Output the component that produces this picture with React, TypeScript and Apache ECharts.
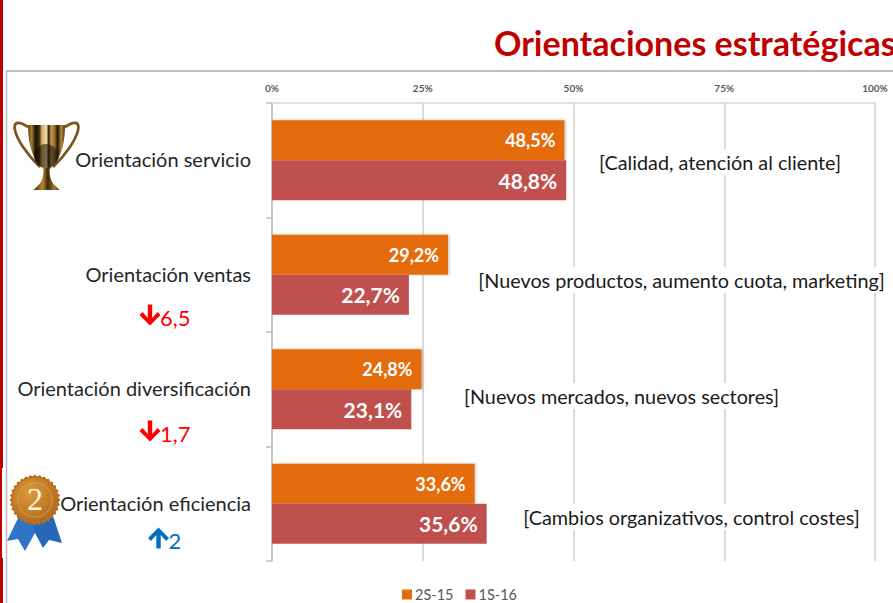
import React, { useEffect, useRef } from "react";
import * as echarts from "echarts";

const categories = ["Orientación servicio", "Orientación ventas", "Orientación diversificación", "Orientación eficiencia"];
const seriesNames = ["2S-15", "1S-16"];
const values2S15 = [48.5, 29.2, 24.8, 33.6];
const values1S16 = [48.8, 22.7, 23.1, 35.6];
const tickLabels = ["0%", "25%", "50%", "75%", "100%"];
const notes = [
  "[Calidad, atención al cliente]",
  "[Nuevos productos, aumento cuota, marketing]",
  "[Nuevos mercados, nuevos sectores]",
  "[Cambios organizativos, control costes]",
];
const noteCenters = [720, 681.5, 621.5, 691.5];
const noteYs = [162, 280, 396, 517];
const deltas = [
  { dir: 1, value: "6,5", color: "#FF0000", x: 150, y: 317 },
  { dir: 1, value: "1,7", color: "#FF0000", x: 150, y: 433 },
  { dir: -1, value: "2", color: "#0070C0", x: 158.5, y: 540 },
];
const FONT = "Lato, 'Noto Sans', sans-serif";

const cupPath = "M0 0 L37 0 C37 20 32 36 22 44 L15 44 C5 36 0 20 0 0 Z";
const stemPath = "M17 0 L23 0 C23 8 24 13 28 17 L33 22 L7 22 L12 17 C16 13 17 8 17 0 Z";
echarts.graphic.registerShape("trophyCup", echarts.graphic.extendPath(cupPath, {}) as any);
echarts.graphic.registerShape("trophyStem", echarts.graphic.extendPath(stemPath, {}) as any);

const gold = (stops: [number, string][]) => ({
  type: "linear", x: 0, y: 0, x2: 1, y2: 0,
  colorStops: stops.map(([offset, color]) => ({ offset, color })),
});

function seal(cx: number, cy: number, r1: number, r2: number, n: number) {
  const pts: number[][] = [];
  for (let i = 0; i < n * 2; i++) {
    const a = (Math.PI * i) / n;
    const r = i % 2 ? r2 : r1;
    pts.push([cx + r * Math.cos(a), cy + r * Math.sin(a)]);
  }
  return pts;
}

function arrowPoints(cx: number, cy: number, dir: number) {
  const shape = [[-2.2, -10.5], [2.2, -10.5], [2.2, 3], [7.5, -3], [10.5, 0], [0, 10.5], [-10.5, 0], [-7.5, -3], [-2.2, 3]];
  return shape.map(([x, y]) => [cx + x, cy + y * dir]);
}

export default function App() {
  const ref = useRef<HTMLDivElement>(null);
  useEffect(() => {
    const chart = echarts.init(ref.current!, null, { renderer: "svg" });
    const barLabel = (size: number) => ({
      show: true,
      position: "insideRight" as const,
      distance: 9,
      color: "#fff",
      fontFamily: FONT,
      fontWeight: "bold" as const,
      fontSize: size,
      formatter: (p: any) => `${String(p.value.toFixed(1)).replace(".", ",")}%`,
    });
    chart.setOption({
      animation: false,
      backgroundColor: "#fff",
      title: {
        text: "Orientaciones estratégicas",
        left: 494,
        top: 25,
        padding: 0,
        textStyle: { color: "#C00000", fontFamily: FONT, fontWeight: "bold", fontSize: 34 },
      },
      legend: {
        data: seriesNames,
        left: 402,
        top: 587,
        padding: 0,
        itemWidth: 10,
        itemHeight: 10,
        itemGap: 12,
        icon: "rect",
        textStyle: { color: "#595959", fontFamily: FONT, fontSize: 14.5, padding: [0, 0, 0, -2] },
      },
      grid: { left: 272, right: 18, top: 103, height: 458 },
      xAxis: {
        type: "value",
        position: "top",
        min: 0,
        max: 100,
        interval: 25,
        axisLine: { show: true, lineStyle: { color: "#D9D9D9", width: 1.5 } },
        axisTick: { show: false },
        axisLabel: {
          margin: 10,
          color: "#595959",
          fontFamily: FONT,
          fontWeight: "bold",
          fontSize: 10,
          formatter: (v: number) => tickLabels[v / 25],
        },
        splitLine: { show: true, lineStyle: { color: "#CFCFCF", width: 1.5 } },
      },
      yAxis: {
        type: "category",
        inverse: true,
        data: categories,
        axisLine: { show: true, lineStyle: { color: "#BFBFBF", width: 1.5 } },
        axisTick: { show: true, length: 6, lineStyle: { color: "#BFBFBF", width: 1.5 } },
        axisLabel: { margin: 21, color: "#262626", fontFamily: FONT, fontSize: 20, verticalAlign: "bottom", lineHeight: 2 },
      },
      series: [
        {
          name: seriesNames[0],
          type: "bar",
          data: values2S15,
          barWidth: 40,
          barGap: 0,
          itemStyle: { color: "#E46C0A", shadowColor: "rgba(0,0,0,0.25)", shadowBlur: 3, shadowOffsetX: 1 },
          label: barLabel(18),
        },
        {
          name: seriesNames[1],
          type: "bar",
          data: values1S16,
          barWidth: 40,
          barGap: 0,
          itemStyle: { color: "#C0504D" },
          label: barLabel(21),
        },
      ],
      graphic: [
        { type: "rect", z: 10, shape: { x: 0, y: 0, width: 3, height: 603 }, style: { fill: "#C00000" } },
        { type: "rect", z: 11, shape: { x: 2, y: 468, width: 5, height: 90 }, style: { fill: "#fff" } },
        { type: "line", z: 12, shape: { x1: 6.5, y1: 71, x2: 6.5, y2: 603 }, style: { stroke: "#BDBDBD", lineWidth: 1.5 } },
        { type: "line", z: 12, shape: { x1: 6, y1: 71, x2: 893, y2: 71 }, style: { stroke: "#ABABAB", lineWidth: 1.5 } },
        ...notes.map((text, i) => ({
          type: "text",
          z: 20,
          x: noteCenters[i],
          y: noteYs[i],
          style: {
            text,
            align: "center",
            verticalAlign: "middle",
            fontFamily: FONT,
            fontSize: 19.8,
            fill: "#1a1a1a",
            backgroundColor: "#fff",
            padding: [3, 4],
          },
        })),
        ...deltas.map((d) => ({
          type: "group",
          z: 20,
          children: [
            { type: "polygon", shape: { points: arrowPoints(d.x, d.y - 2, d.dir) }, style: { fill: d.color } },
            {
              type: "text",
              x: d.x + 10,
              y: d.y,
              style: { text: d.value, verticalAlign: "middle", fontFamily: FONT, fontSize: 22, fill: d.color },
            },
          ],
        })),
        // trophy
        {
          type: "group",
          z: 20,
          children: [
            { type: "bezierCurve", shape: { x1: 28, y1: 127, cpx1: 6, cpy1: 112, cpx2: 12, cpy2: 140, x2: 40, y2: 167 }, style: { fill: "none", stroke: "#7A5620", lineWidth: 2.8 } },
            { type: "bezierCurve", shape: { x1: 65, y1: 127, cpx1: 87, cpy1: 112, cpx2: 81, cpy2: 140, x2: 53, y2: 167 }, style: { fill: "none", stroke: "#7A5620", lineWidth: 2.8 } },
            {
              type: "trophyCup", x: 28, y: 125,
              style: { fill: gold([[0, "#5E3E12"], [0.1, "#A87C2C"], [0.2, "#1E1408"], [0.3, "#3A2810"], [0.38, "#D9B46A"], [0.5, "#EFD9A6"], [0.56, "#2A1C0A"], [0.62, "#C39A48"], [0.72, "#9A7026"], [0.8, "#1E1408"], [0.9, "#B98A34"], [1, "#4A300C"]]) },
            },
            { type: "ellipse", shape: { cx: 46, cy: 156, rx: 12, ry: 12 }, style: { fill: "#140C04", opacity: 0.55 } },
            {
              type: "trophyStem", x: 26.5, y: 168,
              style: { fill: gold([[0, "#3A260C"], [0.35, "#B98A34"], [0.55, "#3A260C"], [0.8, "#A87C2C"], [1, "#4A300C"]]) },
            },
          ],
        },
        // medal
        {
          type: "group",
          z: 21,
          children: [
            { type: "polygon", shape: { points: [[19, 516], [7, 541], [18, 539], [25, 551], [35, 533], [40, 520]] }, style: { fill: "#2E75C8" } },
            { type: "polygon", shape: { points: [[35, 533], [43, 548], [49, 540], [62, 543], [53, 516], [33, 520]] }, style: { fill: "#2568B8" } },
            { type: "polygon", shape: { points: seal(35, 500, 25.5, 23.5, 32) }, style: { fill: "#B56E1C" } },
            {
              type: "circle",
              shape: { cx: 35, cy: 500, r: 22.5 },
              style: {
                fill: { type: "radial", x: 0.4, y: 0.35, r: 0.7, colorStops: [{ offset: 0, color: "#DE9A3C" }, { offset: 1, color: "#B06A1C" }] },
              },
            },
            { type: "circle", shape: { cx: 35, cy: 500, r: 17 }, style: { fill: "none", stroke: "#E0A555", lineWidth: 0.8 } },
            { type: "text", x: 35, y: 499, style: { text: "2", align: "center", verticalAlign: "middle", fontFamily: "'Liberation Serif', serif", fontSize: 32, fill: "#FFF4E4" } },
          ],
        },
      ],
    });
    return () => chart.dispose();
  }, []);
  return <div ref={ref} style={{ position: "fixed", left: 0, top: 0, width: 893, height: 603 }} />;
}
